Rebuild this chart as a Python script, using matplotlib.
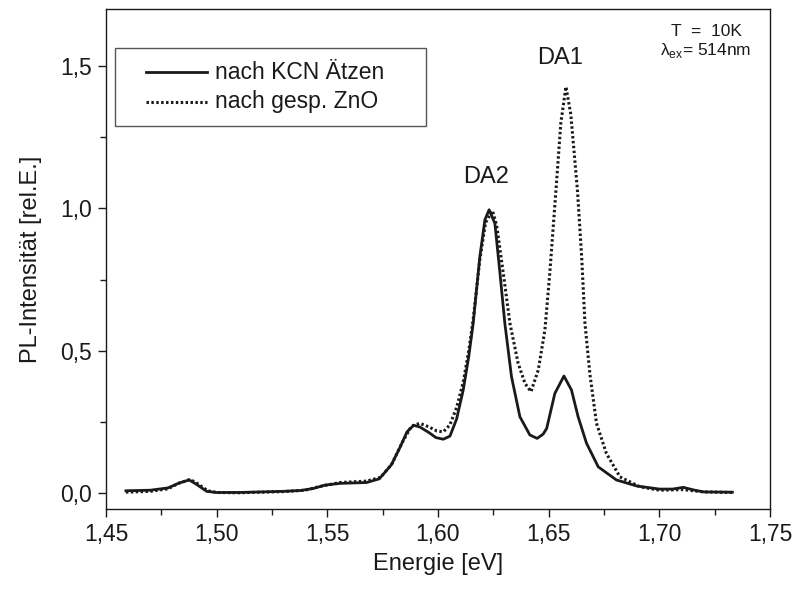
import matplotlib
matplotlib.use("Agg")
import matplotlib.pyplot as plt
from matplotlib.ticker import MultipleLocator, FuncFormatter
from matplotlib.patches import Rectangle
from matplotlib.lines import Line2D

# ---- data ----
energy_kcn = [1.459, 1.470, 1.478, 1.483, 1.4876, 1.491, 1.4955, 1.500, 1.510, 1.520,
              1.530, 1.538, 1.5436, 1.549, 1.5557, 1.5677, 1.5735, 1.5790, 1.5828, 1.586,
              1.589, 1.5918, 1.596, 1.599, 1.6024, 1.6054, 1.6084, 1.6114, 1.6139, 1.6159,
              1.6189, 1.6212, 1.6231, 1.6257, 1.628, 1.6302, 1.6332, 1.637, 1.6415, 1.6448,
              1.6475, 1.6491, 1.6528, 1.6569, 1.6603, 1.6633, 1.6671, 1.6724, 1.6806, 1.6897,
              1.700, 1.706, 1.7108, 1.716, 1.720, 1.733]
intens_kcn = [0.008, 0.010, 0.018, 0.035, 0.046, 0.030, 0.006, 0.002, 0.002, 0.004,
              0.006, 0.009, 0.016, 0.028, 0.034, 0.037, 0.050, 0.100, 0.160, 0.215,
              0.238, 0.232, 0.212, 0.195, 0.189, 0.200, 0.260, 0.362, 0.480, 0.596,
              0.830, 0.960, 0.995, 0.947, 0.772, 0.596, 0.409, 0.268, 0.204, 0.192,
              0.207, 0.227, 0.350, 0.411, 0.362, 0.268, 0.175, 0.092, 0.046, 0.025,
              0.014, 0.014, 0.020, 0.010, 0.004, 0.003]

energy_zno = [1.459, 1.470, 1.478, 1.483, 1.488, 1.491, 1.496, 1.500, 1.510, 1.520,
              1.530, 1.540, 1.546, 1.5557, 1.5677, 1.5740, 1.5790, 1.5840, 1.588, 1.5918,
              1.596, 1.5995, 1.6024, 1.6054, 1.6084, 1.6114, 1.6139, 1.6159, 1.6189, 1.6215,
              1.6246, 1.6265, 1.6295, 1.6325, 1.6362, 1.6393, 1.642, 1.6453, 1.6483, 1.6505,
              1.6533, 1.6555, 1.6578, 1.6600, 1.6630, 1.6649, 1.6664, 1.6686, 1.6716, 1.6761,
              1.6822, 1.6912, 1.700, 1.7108, 1.720, 1.733]
intens_zno = [0.003, 0.006, 0.015, 0.035, 0.048, 0.035, 0.008, 0.002, 0.001, 0.003,
              0.005, 0.010, 0.022, 0.037, 0.042, 0.055, 0.100, 0.180, 0.235, 0.245,
              0.232, 0.218, 0.215, 0.240, 0.300, 0.390, 0.500, 0.610, 0.820, 0.950,
              0.992, 0.940, 0.772, 0.596, 0.456, 0.385, 0.356, 0.432, 0.573, 0.772,
              1.064, 1.300, 1.427, 1.330, 1.064, 0.830, 0.596, 0.420, 0.245, 0.139,
              0.057, 0.022, 0.010, 0.012, 0.004, 0.002]

series_labels = ["nach KCN Ätzen", "nach gesp. ZnO"]
peak_labels = ["DA2", "DA1"]
peak_pos = [(1.6215, 1.11), (1.655, 1.527)]
x_ticks = [1.45, 1.50, 1.55, 1.60, 1.65, 1.70, 1.75]
y_ticks = [0.0, 0.5, 1.0, 1.5]

plt.rcParams['font.family'] = ['Liberation Sans', 'DejaVu Sans']
plt.rcParams['mathtext.fontset'] = 'custom'
plt.rcParams['mathtext.rm'] = 'Liberation Sans'

fig = plt.figure(figsize=(7.98, 5.92), dpi=100)
ax = fig.add_axes([106 / 798, 1 - 509 / 592, (770 - 106) / 798, (509 - 9.3) / 592])

ax.plot(energy_kcn, intens_kcn, color='#1a1a1a', lw=2.0, ls='-', solid_joinstyle='round')
ax.plot(energy_zno, intens_zno, color='#1a1a1a', lw=2.2, ls=(0, (0.8, 0.8)))

ax.set_xlim(1.45, 1.75)
ax.set_ylim(-0.056, 1.699)
ax.set_xticks(x_ticks)
ax.set_yticks(y_ticks)
ax.xaxis.set_minor_locator(MultipleLocator(0.025))
ax.yaxis.set_minor_locator(MultipleLocator(0.25))
ax.xaxis.set_major_formatter(FuncFormatter(lambda v, p: f"{v:.2f}".replace('.', ',')))
ax.yaxis.set_major_formatter(FuncFormatter(lambda v, p: f"{v:.1f}".replace('.', ',')))
ax.tick_params(which='major', direction='out', length=6, width=1, labelsize=16.5, pad=4,
               top=False, right=False, colors='#1a1a1a')
ax.tick_params(which='minor', direction='out', length=4, width=1, top=False, right=False,
               colors='#1a1a1a')
for s in ax.spines.values():
    s.set_linewidth(1.0)
    s.set_color('#1a1a1a')

ax.set_xlabel("Energie [eV]", fontsize=17, color='#1a1a1a', labelpad=5)
ax.set_ylabel("PL-Intensität [rel.E.]", fontsize=17, color='#1a1a1a', labelpad=13)

for lab, (px, py) in zip(peak_labels, peak_pos):
    ax.text(px, py, lab, fontsize=17, ha='center', va='center', color='#1a1a1a')

# condition annotation
fig.text(706 / 798, 1 - 31 / 592, "T  =  10K", fontsize=12.5, ha='center', va='center',
         color='#1a1a1a')
fig.text(706 / 798, 1 - 50 / 592, r"λ$_{\mathregular{ex}}$= 514nm", fontsize=12.5,
         ha='center', va='center', color='#1a1a1a')

# legend box drawn in figure pixels
W, H = 798.0, 592.0
def fx(p):
    return p / W
def fy(p):
    return 1 - p / H
fig.patches.append(Rectangle((fx(115), fy(126)), fx(426) - fx(115), fy(48.3) - fy(126),
                             transform=fig.transFigure, fill=True, facecolor='white',
                             edgecolor='#555555', lw=1.0, zorder=5))
fig.lines.append(Line2D([fx(145.7), fx(207.3)], [fy(72.3), fy(72.3)], transform=fig.transFigure,
                        color='#1a1a1a', lw=2.0, zorder=6))
fig.lines.append(Line2D([fx(145.7), fx(207.3)], [fy(101.7), fy(101.7)], transform=fig.transFigure,
                        color='#1a1a1a', lw=2.2, ls=(0, (0.8, 0.8)), zorder=6))
for lab, yy in zip(series_labels, [72.3, 101.7]):
    fig.text(fx(215), fy(yy), lab, fontsize=16.5, ha='left', va='center', color='#1a1a1a',
             zorder=7)

fig.savefig("out.png", dpi=100)
